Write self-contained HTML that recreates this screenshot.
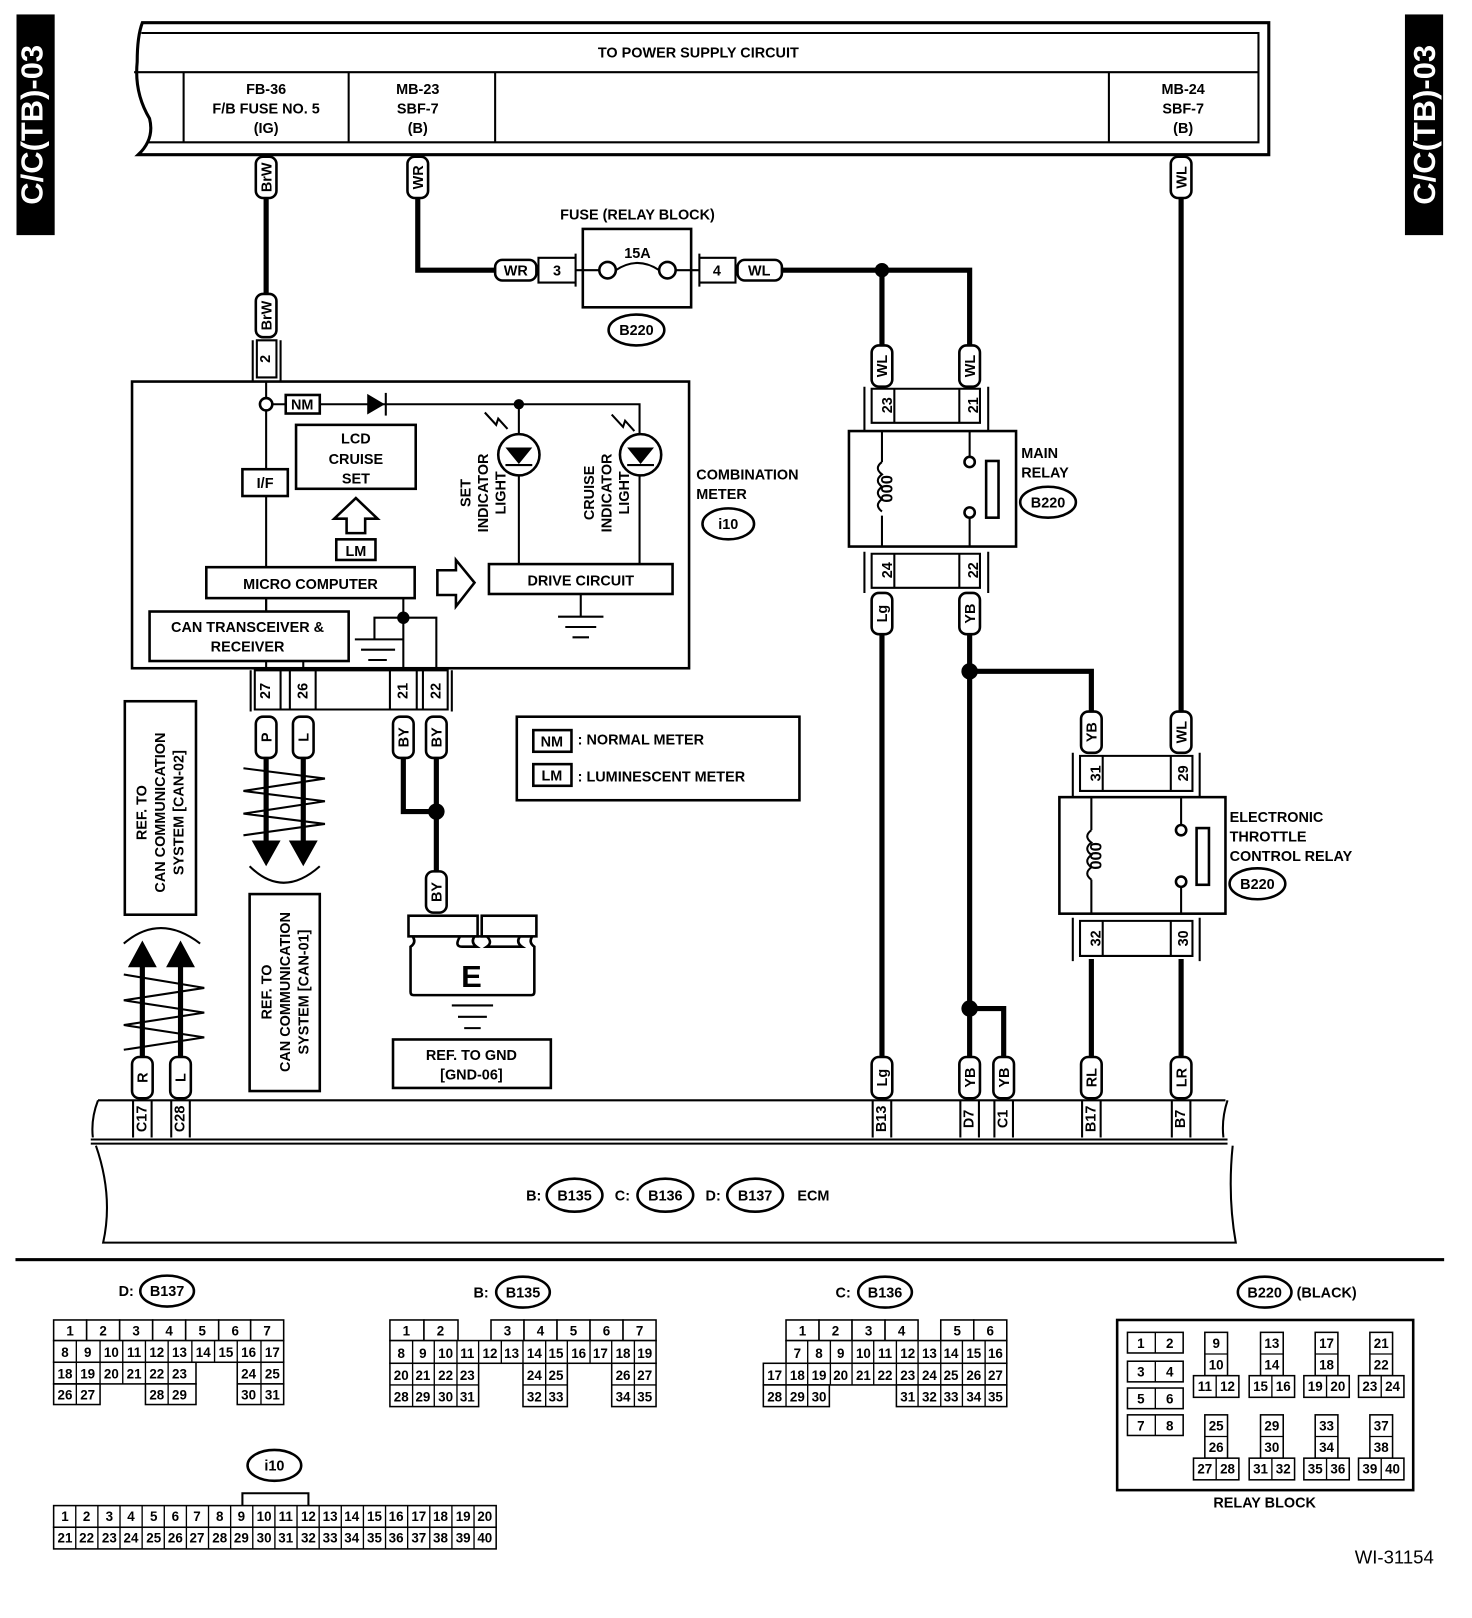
<!DOCTYPE html>
<html><head><meta charset="utf-8"><style>
html,body{margin:0;padding:0;background:#fff}
svg{display:block}
text{font-family:"Liberation Sans",sans-serif;font-weight:bold;fill:#000}
.t{font-size:14px}
.s{font-size:13px;font-weight:normal}
.w{stroke:#000;stroke-width:5;fill:none}
.n{stroke:#000;stroke-width:2;fill:none}
.b{stroke:#000;stroke-width:2.5;fill:#fff}
</style></head><body>
<svg width="1472" height="1618" viewBox="0 0 1427 1569" preserveAspectRatio="none" xmlns="http://www.w3.org/2000/svg">
<rect x="16" y="14" width="37" height="214" fill="#000"/>
<text transform="translate(41,121) rotate(-90)" text-anchor="middle" style="font-size:30px;fill:#fff">C/C(TB)-03</text>
<rect x="1362" y="14" width="37" height="214" fill="#000"/>
<text transform="translate(1391,121) rotate(-90)" text-anchor="middle" style="font-size:30px;fill:#fff">C/C(TB)-03</text>

<path d="M138,22 H1230 V150 H134 Q150,135 145,115 Q130,90 133,60 Q133,35 138,22 Z" fill="#fff" stroke="#000" stroke-width="3"/>
<path d="M137,32 H1220 V138 H142 M130,70 H1220" class="n" stroke-width="2.5"/>
<path d="M178,70 V138 M338,70 V138 M480,70 V138 M1075,70 V138" class="n" stroke-width="2.5"/>
<text x="677" y="56" text-anchor="middle" class="t">TO POWER SUPPLY CIRCUIT</text>
<text x="258" y="91" text-anchor="middle" class="t">FB-36</text>
<text x="258" y="110" text-anchor="middle" class="t">F/B FUSE NO. 5</text>
<text x="258" y="129" text-anchor="middle" class="t">(IG)</text>
<text x="405" y="91" text-anchor="middle" class="t">MB-23</text>
<text x="405" y="110" text-anchor="middle" class="t">SBF-7</text>
<text x="405" y="129" text-anchor="middle" class="t">(B)</text>
<text x="1147" y="91" text-anchor="middle" class="t">MB-24</text>
<text x="1147" y="110" text-anchor="middle" class="t">SBF-7</text>
<text x="1147" y="129" text-anchor="middle" class="t">(B)</text>

<path class="w" d="M258,192 V290"/>
<path class="w" d="M405,192 V262 H480"/>
<path class="w" d="M1145,192 V690"/>
<path class="w" d="M758,262 H940 V335"/>
<path class="w" d="M855,262 V335"/>
<circle cx="855" cy="262" r="7"/>
<path class="w" d="M855,615 V1025"/>
<path class="w" d="M940,615 V1025"/>
<path class="w" d="M940,651 H1058 V690"/>
<path class="w" d="M940,978 H973 V1025"/>
<circle cx="940" cy="651" r="8"/><circle cx="940" cy="978" r="8"/>
<path class="w" d="M1058,930 V1025 M1145,930 V1025"/>

<g fill="#fff" stroke="#000" stroke-width="2.5">
<rect x="248" y="152" width="20" height="40" rx="7"/>
<rect x="248" y="285" width="20" height="42" rx="7"/>
<rect x="395" y="152" width="20" height="40" rx="7"/>
<rect x="1135" y="152" width="20" height="40" rx="7"/>
<rect x="480" y="252" width="40" height="20" rx="7"/>
<rect x="715" y="252" width="43" height="20" rx="7"/>
<rect x="845" y="335" width="20" height="40" rx="7"/>
<rect x="930" y="335" width="20" height="40" rx="7"/>
<rect x="845" y="575" width="20" height="40" rx="7"/>
<rect x="930" y="575" width="20" height="40" rx="7"/>
<rect x="1048" y="690" width="20" height="40" rx="7"/>
<rect x="1135" y="690" width="20" height="40" rx="7"/>
<rect x="845" y="1025" width="20" height="40" rx="7"/>
<rect x="930" y="1025" width="20" height="40" rx="7"/>
<rect x="963" y="1025" width="20" height="40" rx="7"/>
<rect x="1048" y="1025" width="20" height="40" rx="7"/>
<rect x="1135" y="1025" width="20" height="40" rx="7"/>
<rect x="248" y="695" width="20" height="40" rx="7"/>
<rect x="284" y="695" width="20" height="40" rx="7"/>
<rect x="381" y="695" width="20" height="40" rx="7"/>
<rect x="413" y="695" width="20" height="40" rx="7"/>
<rect x="413" y="845" width="20" height="40" rx="7"/>
<rect x="128" y="1025" width="20" height="40" rx="7"/>
<rect x="165" y="1025" width="20" height="40" rx="7"/>
</g>
<g class="t" text-anchor="middle">
<text transform="translate(263,172) rotate(-90)">BrW</text>
<text transform="translate(263,306) rotate(-90)">BrW</text>
<text transform="translate(410,172) rotate(-90)">WR</text>
<text transform="translate(1150,172) rotate(-90)">WL</text>
<text x="500" y="267">WR</text>
<text x="736" y="267">WL</text>
<text transform="translate(860,355) rotate(-90)">WL</text>
<text transform="translate(945,355) rotate(-90)">WL</text>
<text transform="translate(860,595) rotate(-90)">Lg</text>
<text transform="translate(945,595) rotate(-90)">YB</text>
<text transform="translate(1063,710) rotate(-90)">YB</text>
<text transform="translate(1150,710) rotate(-90)">WL</text>
<text transform="translate(860,1045) rotate(-90)">Lg</text>
<text transform="translate(945,1045) rotate(-90)">YB</text>
<text transform="translate(978,1045) rotate(-90)">YB</text>
<text transform="translate(1063,1045) rotate(-90)">RL</text>
<text transform="translate(1150,1045) rotate(-90)">LR</text>
<text transform="translate(263,715) rotate(-90)">P</text>
<text transform="translate(299,715) rotate(-90)">L</text>
<text transform="translate(396,715) rotate(-90)">BY</text>
<text transform="translate(428,715) rotate(-90)">BY</text>
<text transform="translate(428,865) rotate(-90)">BY</text>
<text transform="translate(143,1045) rotate(-90)">R</text>
<text transform="translate(180,1045) rotate(-90)">L</text>
</g>

<text x="618" y="213" text-anchor="middle" class="t">FUSE (RELAY BLOCK)</text>
<rect x="565" y="222" width="105" height="76" class="b"/>
<path class="n" d="M558,246 V278 M522,250 H558 V274 H522 Z M678,246 V278 M678,250 H713 V274 H678 Z"/>
<text x="540" y="267" text-anchor="middle" class="t">3</text>
<text x="695" y="267" text-anchor="middle" class="t">4</text>
<text x="618" y="250" text-anchor="middle" class="t">15A</text>
<path class="n" d="M558,262 H581 M597,262 Q618,248 639,262 M655,262 H678"/>
<circle cx="589" cy="262" r="8" class="b" stroke-width="2"/><circle cx="647" cy="262" r="8" class="b" stroke-width="2"/>
<ellipse cx="617" cy="320" rx="27" ry="15" class="b"/>
<text x="617" y="325" text-anchor="middle" class="t">B220</text>

<path class="n" d="M838,375 V418 M958,375 V418 M845,377 H950 V410 H845 Z M867,377 V410 M930,377 V410"/>
<text transform="translate(861,393) rotate(-90)" text-anchor="middle" class="t" dominant-baseline="central">23</text>
<text transform="translate(944,393) rotate(-90)" text-anchor="middle" class="t" dominant-baseline="central">21</text>
<rect x="823" y="418" width="162" height="112" class="b"/>
<path class="n" d="M855,418 V448 M855,500 V530 M940,418 V443 M940,503 V530"/>
<path class="n" d="M855,448 q-8,6 0,12 q-8,6 0,12 q-8,6 0,12 q-8,6 0,12" stroke-width="2.5"/>
<text transform="translate(865,474) rotate(-90)" text-anchor="middle" class="t" style="font-size:16px">000</text>
<circle cx="940" cy="448" r="5" class="b" stroke-width="2"/><circle cx="940" cy="497" r="5" class="b" stroke-width="2"/>
<rect x="956" y="447" width="12" height="55" class="b" stroke-width="2"/>
<path class="n" d="M838,535 V575 M958,535 V575 M845,537 H950 V570 H845 Z M867,537 V570 M930,537 V570"/>
<text transform="translate(861,553) rotate(-90)" text-anchor="middle" class="t" dominant-baseline="central">24</text>
<text transform="translate(944,553) rotate(-90)" text-anchor="middle" class="t" dominant-baseline="central">22</text>
<text x="990" y="444" class="t">MAIN</text>
<text x="990" y="463" class="t">RELAY</text>
<ellipse cx="1016" cy="487" rx="27" ry="15" class="b"/>
<text x="1016" y="492" text-anchor="middle" class="t">B220</text>

<path class="n" d="M1040,730 V773 M1163,730 V773 M1047,733 H1156 V767 H1047 Z M1069,733 V767 M1135,733 V767"/>
<text transform="translate(1063,750) rotate(-90)" text-anchor="middle" class="t" dominant-baseline="central">31</text>
<text transform="translate(1148,750) rotate(-90)" text-anchor="middle" class="t" dominant-baseline="central">29</text>
<rect x="1027" y="773" width="161" height="113" class="b"/>
<path class="n" d="M1058,773 V805 M1058,853 V886 M1145,773 V800 M1145,860 V886"/>
<path class="n" d="M1058,805 q-8,6 0,12 q-8,6 0,12 q-8,6 0,12 q-8,6 0,12" stroke-width="2.5"/>
<text transform="translate(1068,830) rotate(-90)" text-anchor="middle" class="t" style="font-size:16px">000</text>
<circle cx="1145" cy="805" r="5" class="b" stroke-width="2"/><circle cx="1145" cy="855" r="5" class="b" stroke-width="2"/>
<rect x="1160" y="803" width="12" height="55" class="b" stroke-width="2"/>
<path class="n" d="M1040,890 V932 M1163,890 V932 M1047,893 H1156 V927 H1047 Z M1069,893 V927 M1135,893 V927"/>
<text transform="translate(1063,910) rotate(-90)" text-anchor="middle" class="t" dominant-baseline="central">32</text>
<text transform="translate(1148,910) rotate(-90)" text-anchor="middle" class="t" dominant-baseline="central">30</text>
<text x="1192" y="797" class="t">ELECTRONIC</text>
<text x="1192" y="816" class="t">THROTTLE</text>
<text x="1192" y="835" class="t">CONTROL RELAY</text>
<ellipse cx="1219" cy="857" rx="27" ry="15" class="b"/>
<text x="1219" y="862" text-anchor="middle" class="t">B220</text>

<path class="n" d="M245,330 V370 M272,330 V370 M249,330 H268 V366 H249 Z"/>
<text transform="translate(258,348) rotate(-90)" text-anchor="middle" class="t" dominant-baseline="central">2</text>
<rect x="128" y="370" width="540" height="278" class="b"/>
<path class="n" d="M258,370 V385 M258,399 V600 M265,392 H277 M310,392 H620 V548 M503,392 V548"/>
<rect x="277" y="383" width="33" height="18" class="b" stroke-width="2"/>
<text x="293" y="397" text-anchor="middle" class="t">NM</text>
<circle cx="258" cy="392" r="6" class="b" stroke-width="2"/>
<path d="M356,382 L373,392 L356,402 Z"/><path class="n" d="M374,381 V403" stroke-width="3"/>
<circle cx="503" cy="392" r="5"/>
<rect x="287" y="412" width="116" height="62" class="b"/>
<text x="345" y="430" text-anchor="middle" class="t">LCD</text>
<text x="345" y="450" text-anchor="middle" class="t">CRUISE</text>
<text x="345" y="469" text-anchor="middle" class="t">SET</text>
<rect x="235" y="455" width="44" height="26" class="b"/>
<text x="257" y="473" text-anchor="middle" class="t">I/F</text>
<path d="M345,483 L366,503 L354,503 L354,517 L336,517 L336,503 L324,503 Z" class="b"/>
<rect x="326" y="523" width="38" height="20" class="b"/>
<text x="345" y="539" text-anchor="middle" class="t">LM</text>
<rect x="200" y="550" width="202" height="30" class="b"/>
<text x="301" y="571" text-anchor="middle" class="t">MICRO COMPUTER</text>
<path d="M424,553 L442,553 L442,543 L460,565 L442,588 L442,577 L424,577 Z" class="b"/>
<rect x="474" y="547" width="178" height="29" class="b"/>
<text x="563" y="568" text-anchor="middle" class="t">DRIVE CIRCUIT</text>
<path class="n" d="M563,576 V598 M541,598 H585 M548,608 H578 M555,618 H571"/>
<circle cx="503" cy="441" r="20" class="b" stroke-width="2.5"/>
<circle cx="621" cy="441" r="20" class="b" stroke-width="2.5"/>
<path d="M490,434 H516 L503,450 Z M608,434 H634 L621,450 Z"/>
<path class="n" d="M490,451 H516 M608,451 H634"/>
<path class="n" d="M470,400 L481,412 L483,406 L492,416 M593,402 L604,414 L606,408 L615,418"/>
<text transform="translate(456,478) rotate(-90)" text-anchor="middle" class="t">SET</text>
<text transform="translate(473,478) rotate(-90)" text-anchor="middle" class="t">INDICATOR</text>
<text transform="translate(490,478) rotate(-90)" text-anchor="middle" class="t">LIGHT</text>
<text transform="translate(576,478) rotate(-90)" text-anchor="middle" class="t">CRUISE</text>
<text transform="translate(593,478) rotate(-90)" text-anchor="middle" class="t">INDICATOR</text>
<text transform="translate(610,478) rotate(-90)" text-anchor="middle" class="t">LIGHT</text>
<rect x="145" y="593" width="193" height="48" class="b"/>
<text x="240" y="613" text-anchor="middle" class="t">CAN TRANSCEIVER &amp;</text>
<text x="240" y="632" text-anchor="middle" class="t">RECEIVER</text>
<path class="n" d="M258,580 V593 M391,580 V648 M391,599 H423 V648 M391,599 H363 V620 M344,620 H390 M350,630 H383 M357,640 H375 M258,641 V650 M294,641 V650"/>
<circle cx="391" cy="599" r="6"/>
<text x="675" y="465" class="t">COMBINATION</text>
<text x="675" y="484" class="t">METER</text>
<ellipse cx="706" cy="508" rx="25" ry="15" class="b"/>
<text x="706" y="513" text-anchor="middle" class="t">i10</text>
<path class="n" d="M243,650 V690 M438,650 V690 M247,650 H434 V688 H247 Z M272,650 V688 M281,650 V688 M306,650 V688 M378,650 V688 M404,650 V688 M410,650 V688"/>
<text transform="translate(258,670) rotate(-90)" text-anchor="middle" class="t" dominant-baseline="central">27</text>
<text transform="translate(294,670) rotate(-90)" text-anchor="middle" class="t" dominant-baseline="central">26</text>
<text transform="translate(391,670) rotate(-90)" text-anchor="middle" class="t" dominant-baseline="central">21</text>
<text transform="translate(423,670) rotate(-90)" text-anchor="middle" class="t" dominant-baseline="central">22</text>

<path class="w" d="M391,735 V787 H423 M423,735 V845"/>
<circle cx="423" cy="787" r="8"/>
<path d="M400,908 Q404,914 398,918 V962 Q398,965 401,965 H515 Q518,965 518,962 V918 Q512,914 516,908 H504 Q500,914 506,918 H472 Q478,914 472,908 H460 Q456,914 462,918 H448 Q440,918 446,908 Z" class="b"/>
<rect x="396" y="888" width="67" height="20" class="b"/>
<rect x="467" y="888" width="53" height="20" class="b"/>
<text x="457" y="957" text-anchor="middle" style="font-size:30px">E</text>
<path class="n" d="M438,975 H478 M444,986 H472 M450,997 H466" stroke-width="3"/>
<rect x="381" y="1008" width="153" height="47" class="b"/>
<text x="457" y="1028" text-anchor="middle" class="t">REF. TO GND</text>
<text x="457" y="1047" text-anchor="middle" class="t">[GND-06]</text>

<rect x="501" y="695" width="274" height="81" class="b"/>
<rect x="517" y="708" width="37" height="21" class="b"/>
<text x="535" y="724" text-anchor="middle" class="t">NM</text>
<text x="560" y="722" class="t">: NORMAL METER</text>
<rect x="517" y="741" width="37" height="21" class="b"/>
<text x="535" y="757" text-anchor="middle" class="t">LM</text>
<text x="560" y="758" class="t">: LUMINESCENT METER</text>

<path class="w" d="M258,735 V818 M294,735 V818"/>
<path d="M244,815 L272,815 L258,840 Z M280,815 L308,815 L294,840 Z"/>
<path class="n" stroke-width="3" d="M236,745 L315,755 L236,767 L315,777 L236,789 L315,799 L236,810"/>
<path class="n" d="M242,840 Q274,872 310,840"/>
<rect x="242" y="867" width="68" height="191" class="b"/>
<text transform="translate(263,962) rotate(-90)" text-anchor="middle" class="t">REF. TO</text>
<text transform="translate(281,962) rotate(-90)" text-anchor="middle" class="t">CAN COMMUNICATION</text>
<text transform="translate(299,962) rotate(-90)" text-anchor="middle" class="t">SYSTEM [CAN-01]</text>
<rect x="121" y="680" width="69" height="207" class="b"/>
<text transform="translate(142,788) rotate(-90)" text-anchor="middle" class="t">REF. TO</text>
<text transform="translate(160,788) rotate(-90)" text-anchor="middle" class="t">CAN COMMUNICATION</text>
<text transform="translate(178,788) rotate(-90)" text-anchor="middle" class="t">SYSTEM [CAN-02]</text>
<path class="w" d="M138,1025 V935 M175,1025 V935"/>
<path d="M124,938 L152,938 L138,912 Z M161,938 L189,938 L175,912 Z"/>
<path class="n" stroke-width="3" d="M120,945 L198,958 L120,970 L198,982 L120,994 L198,1006 L120,1018"/>
<path class="n" d="M120,915 Q155,885 194,915"/>

<path class="n" stroke-width="3" d="M95,1067 H1188 M88,1105 H1190 M88,1109 H1190 M95,1067 Q88,1085 90,1103 M1190,1067 Q1184,1085 1186,1103 M93,1111 Q110,1160 100,1205 H1198 Q1190,1160 1195,1111"/>
<path class="n" d="M129,1067 V1103 M147,1067 V1103 M166,1067 V1103 M184,1067 V1103 M846,1067 V1103 M864,1067 V1103 M931,1067 V1103 M949,1067 V1103 M964,1067 V1103 M982,1067 V1103 M1049,1067 V1103 M1067,1067 V1103 M1136,1067 V1103 M1154,1067 V1103"/>
<g class="t" text-anchor="middle" dominant-baseline="central">
<text transform="translate(138,1085) rotate(-90)">C17</text>
<text transform="translate(175,1085) rotate(-90)">C28</text>
<text transform="translate(855,1085) rotate(-90)">B13</text>
<text transform="translate(940,1085) rotate(-90)">D7</text>
<text transform="translate(973,1085) rotate(-90)">C1</text>
<text transform="translate(1058,1085) rotate(-90)">B17</text>
<text transform="translate(1145,1085) rotate(-90)">B7</text>
</g>
<text x="510" y="1164" class="t">B:</text>
<ellipse cx="557" cy="1159" rx="27" ry="16" class="b"/><text x="557" y="1164" text-anchor="middle" class="t">B135</text>
<text x="596" y="1164" class="t">C:</text>
<ellipse cx="645" cy="1159" rx="27" ry="16" class="b"/><text x="645" y="1164" text-anchor="middle" class="t">B136</text>
<text x="684" y="1164" class="t">D:</text>
<ellipse cx="732" cy="1159" rx="27" ry="16" class="b"/><text x="732" y="1164" text-anchor="middle" class="t">B137</text>
<text x="773" y="1164" class="t">ECM</text>

<rect x="15" y="1220" width="1385" height="3"/>

<text x="115" y="1257" class="t">D:</text>
<ellipse cx="162" cy="1252" rx="26" ry="15" class="b"/><text x="162" y="1257" text-anchor="middle" class="t">B137</text>
<text x="459" y="1258" class="t">B:</text>
<ellipse cx="507" cy="1253" rx="26" ry="15" class="b"/><text x="507" y="1258" text-anchor="middle" class="t">B135</text>
<text x="810" y="1258" class="t">C:</text>
<ellipse cx="858" cy="1253" rx="26" ry="15" class="b"/><text x="858" y="1258" text-anchor="middle" class="t">B136</text>
<ellipse cx="1226" cy="1253" rx="26" ry="15" class="b"/><text x="1226" y="1258" text-anchor="middle" class="t">B220</text>
<text x="1257" y="1258" class="t">(BLACK)</text>
<ellipse cx="266" cy="1421" rx="26" ry="15" class="b"/><text x="266" y="1426" text-anchor="middle" class="t">i10</text>

<g stroke="#000" stroke-width="1.5" fill="#fff">
<rect x="52" y="1280" width="32" height="20"/><rect x="84" y="1280" width="32" height="20"/><rect x="116" y="1280" width="32" height="20"/><rect x="148" y="1280" width="32" height="20"/><rect x="180" y="1280" width="32" height="20"/><rect x="212" y="1280" width="31" height="20"/><rect x="243" y="1280" width="32" height="20"/>
<rect x="52" y="1300" width="223" height="21"/>
<rect x="52" y="1321" width="138" height="21"/><rect x="230" y="1321" width="45" height="21"/>
<rect x="52" y="1342" width="45" height="20"/><rect x="141" y="1342" width="49" height="20"/><rect x="230" y="1342" width="45" height="20"/>
<rect x="378" y="1280" width="33" height="20"/><rect x="411" y="1280" width="33" height="20"/><rect x="476" y="1280" width="32" height="20"/><rect x="508" y="1280" width="32" height="20"/><rect x="540" y="1280" width="32" height="20"/><rect x="572" y="1280" width="32" height="20"/><rect x="604" y="1280" width="32" height="20"/>
<rect x="378" y="1300" width="258" height="22"/>
<rect x="378" y="1322" width="86" height="42"/><rect x="507" y="1322" width="43" height="42"/><rect x="593" y="1322" width="43" height="42"/>
<rect x="762" y="1280" width="32" height="20"/><rect x="794" y="1280" width="32" height="20"/><rect x="826" y="1280" width="32" height="20"/><rect x="858" y="1280" width="32" height="20"/><rect x="912" y="1280" width="32" height="20"/><rect x="944" y="1280" width="32" height="20"/>
<rect x="762" y="1300" width="214" height="22"/>
<rect x="740" y="1322" width="236" height="21"/>
<rect x="740" y="1343" width="64" height="21"/><rect x="869" y="1343" width="107" height="21"/>
<rect x="52" y="1460" width="429" height="21"/><rect x="52" y="1481" width="429" height="21"/>
<rect x="1083" y="1280" width="287" height="165" stroke-width="2.5"/>
</g>
<path class="n" d="M235,1460 V1448 H299 V1460" stroke-width="1.5"/>
<g stroke="#000" stroke-width="1.3" fill="none">
<path d="M74,1300 V1362 M97,1300 V1342 M119,1300 V1342 M141,1300 V1342 M163,1300 V1342 M186,1300 V1321 M208,1300 V1321 M230,1300 V1321 M253,1300 V1362 M163,1342 V1362 M52,1321 H190 M52,1342 H97"/>
<path d="M400,1300 V1364 M421,1300 V1364 M443,1300 V1364 M464,1300 V1322 M486,1300 V1322 M507,1300 V1322 M529,1300 V1364 M550,1300 V1322 M572,1300 V1322 M593,1300 V1322 M615,1300 V1364 M378,1343 H464 M507,1343 H550 M593,1343 H636"/>
<path d="M783,1300 V1343 M805,1300 V1343 M826,1300 V1343 M847,1300 V1343 M869,1300 V1343 M890,1300 V1364 M912,1300 V1364 M933,1300 V1364 M955,1300 V1364 M762,1322 V1364 M783,1343 V1364"/>
<path d="M73.45,1460 V1502 M94.9,1460 V1502 M116.35,1460 V1502 M137.8,1460 V1502 M159.25,1460 V1502 M180.7,1460 V1502 M202.15,1460 V1502 M223.6,1460 V1502 M245.05,1460 V1502 M266.5,1460 V1502 M287.95,1460 V1502 M309.4,1460 V1502 M330.85,1460 V1502 M352.3,1460 V1502 M373.75,1460 V1502 M395.2,1460 V1502 M416.65,1460 V1502 M438.1,1460 V1502 M459.55,1460 V1502"/>
</g>
<g stroke="#000" stroke-width="1.5" fill="#fff">
<rect x="1093" y="1292" width="54" height="20"/><rect x="1093" y="1320" width="54" height="20"/><rect x="1093" y="1346" width="54" height="20"/><rect x="1093" y="1372" width="54" height="20"/>
<rect x="1168" y="1292" width="22" height="42"/><rect x="1157" y="1334" width="44" height="21"/>
<rect x="1222" y="1292" width="22" height="42"/><rect x="1211" y="1334" width="44" height="21"/>
<rect x="1275" y="1292" width="22" height="42"/><rect x="1264" y="1334" width="44" height="21"/>
<rect x="1328" y="1292" width="22" height="42"/><rect x="1317" y="1334" width="44" height="21"/>
<rect x="1168" y="1372" width="22" height="42"/><rect x="1157" y="1414" width="44" height="21"/>
<rect x="1222" y="1372" width="22" height="42"/><rect x="1211" y="1414" width="44" height="21"/>
<rect x="1275" y="1372" width="22" height="42"/><rect x="1264" y="1414" width="44" height="21"/>
<rect x="1328" y="1372" width="22" height="42"/><rect x="1317" y="1414" width="44" height="21"/>
</g>
<g stroke="#000" stroke-width="1.3" fill="none">
<path d="M1120,1292 V1312 M1120,1320 V1340 M1120,1346 V1366 M1120,1372 V1392 M1168,1313 H1190 M1222,1313 H1244 M1275,1313 H1297 M1328,1313 H1350 M1168,1393 H1190 M1222,1393 H1244 M1275,1393 H1297 M1328,1393 H1350 M1179,1334 V1355 M1233,1334 V1355 M1286,1334 V1355 M1339,1334 V1355 M1179,1414 V1435 M1233,1414 V1435 M1286,1414 V1435 M1339,1414 V1435"/>
</g>
<text x="1226" y="1462" text-anchor="middle" class="t">RELAY BLOCK</text>
<text x="1390" y="1516" text-anchor="end" style="font-size:18px;font-weight:normal">WI-31154</text>

<g class="s" text-anchor="middle">
<text x="68" y="1295">1</text><text x="100" y="1295">2</text><text x="132" y="1295">3</text><text x="164" y="1295">4</text><text x="196" y="1295">5</text><text x="228" y="1295">6</text><text x="259" y="1295">7</text>
<text x="63" y="1316">8</text><text x="85" y="1316">9</text><text x="108" y="1316">10</text><text x="130" y="1316">11</text><text x="152" y="1316">12</text><text x="174" y="1316">13</text><text x="197" y="1316">14</text><text x="219" y="1316">15</text><text x="241" y="1316">16</text><text x="264" y="1316">17</text>
<text x="63" y="1337">18</text><text x="85" y="1337">19</text><text x="108" y="1337">20</text><text x="130" y="1337">21</text><text x="152" y="1337">22</text><text x="174" y="1337">23</text><text x="241" y="1337">24</text><text x="264" y="1337">25</text>
<text x="63" y="1357">26</text><text x="85" y="1357">27</text><text x="152" y="1357">28</text><text x="174" y="1357">29</text><text x="241" y="1357">30</text><text x="264" y="1357">31</text>
<text x="394" y="1295">1</text><text x="427" y="1295">2</text><text x="492" y="1295">3</text><text x="524" y="1295">4</text><text x="556" y="1295">5</text><text x="588" y="1295">6</text><text x="620" y="1295">7</text>
<text x="389" y="1317">8</text><text x="410" y="1317">9</text><text x="432" y="1317">10</text><text x="453" y="1317">11</text><text x="475" y="1317">12</text><text x="496" y="1317">13</text><text x="518" y="1317">14</text><text x="539" y="1317">15</text><text x="561" y="1317">16</text><text x="582" y="1317">17</text><text x="604" y="1317">18</text><text x="625" y="1317">19</text>
<text x="389" y="1338">20</text><text x="410" y="1338">21</text><text x="432" y="1338">22</text><text x="453" y="1338">23</text><text x="518" y="1338">24</text><text x="539" y="1338">25</text><text x="604" y="1338">26</text><text x="625" y="1338">27</text>
<text x="389" y="1359">28</text><text x="410" y="1359">29</text><text x="432" y="1359">30</text><text x="453" y="1359">31</text><text x="518" y="1359">32</text><text x="539" y="1359">33</text><text x="604" y="1359">34</text><text x="625" y="1359">35</text>
<text x="778" y="1295">1</text><text x="810" y="1295">2</text><text x="842" y="1295">3</text><text x="874" y="1295">4</text><text x="928" y="1295">5</text><text x="960" y="1295">6</text>
<text x="773" y="1317">7</text><text x="794" y="1317">8</text><text x="815" y="1317">9</text><text x="837" y="1317">10</text><text x="858" y="1317">11</text><text x="880" y="1317">12</text><text x="901" y="1317">13</text><text x="922" y="1317">14</text><text x="944" y="1317">15</text><text x="965" y="1317">16</text>
<text x="751" y="1338">17</text><text x="773" y="1338">18</text><text x="794" y="1338">19</text><text x="815" y="1338">20</text><text x="837" y="1338">21</text><text x="858" y="1338">22</text><text x="880" y="1338">23</text><text x="901" y="1338">24</text><text x="922" y="1338">25</text><text x="944" y="1338">26</text><text x="965" y="1338">27</text>
<text x="751" y="1359">28</text><text x="773" y="1359">29</text><text x="794" y="1359">30</text><text x="880" y="1359">31</text><text x="901" y="1359">32</text><text x="922" y="1359">33</text><text x="944" y="1359">34</text><text x="965" y="1359">35</text>
<text x="63" y="1475">1</text><text x="84" y="1475">2</text><text x="106" y="1475">3</text><text x="127" y="1475">4</text><text x="149" y="1475">5</text><text x="170" y="1475">6</text><text x="191" y="1475">7</text><text x="213" y="1475">8</text><text x="234" y="1475">9</text><text x="256" y="1475">10</text><text x="277" y="1475">11</text><text x="299" y="1475">12</text><text x="320" y="1475">13</text><text x="341" y="1475">14</text><text x="363" y="1475">15</text><text x="384" y="1475">16</text><text x="406" y="1475">17</text><text x="427" y="1475">18</text><text x="449" y="1475">19</text><text x="470" y="1475">20</text>
<text x="63" y="1496">21</text><text x="84" y="1496">22</text><text x="106" y="1496">23</text><text x="127" y="1496">24</text><text x="149" y="1496">25</text><text x="170" y="1496">26</text><text x="191" y="1496">27</text><text x="213" y="1496">28</text><text x="234" y="1496">29</text><text x="256" y="1496">30</text><text x="277" y="1496">31</text><text x="299" y="1496">32</text><text x="320" y="1496">33</text><text x="341" y="1496">34</text><text x="363" y="1496">35</text><text x="384" y="1496">36</text><text x="406" y="1496">37</text><text x="427" y="1496">38</text><text x="449" y="1496">39</text><text x="470" y="1496">40</text>
<text x="1106" y="1307">1</text><text x="1134" y="1307">2</text><text x="1106" y="1335">3</text><text x="1134" y="1335">4</text><text x="1106" y="1361">5</text><text x="1134" y="1361">6</text><text x="1106" y="1387">7</text><text x="1134" y="1387">8</text>
<text x="1179" y="1307">9</text><text x="1179" y="1328">10</text><text x="1168" y="1349">11</text><text x="1190" y="1349">12</text>
<text x="1233" y="1307">13</text><text x="1233" y="1328">14</text><text x="1222" y="1349">15</text><text x="1244" y="1349">16</text>
<text x="1286" y="1307">17</text><text x="1286" y="1328">18</text><text x="1275" y="1349">19</text><text x="1297" y="1349">20</text>
<text x="1339" y="1307">21</text><text x="1339" y="1328">22</text><text x="1328" y="1349">23</text><text x="1350" y="1349">24</text>
<text x="1179" y="1387">25</text><text x="1179" y="1408">26</text><text x="1168" y="1429">27</text><text x="1190" y="1429">28</text>
<text x="1233" y="1387">29</text><text x="1233" y="1408">30</text><text x="1222" y="1429">31</text><text x="1244" y="1429">32</text>
<text x="1286" y="1387">33</text><text x="1286" y="1408">34</text><text x="1275" y="1429">35</text><text x="1297" y="1429">36</text>
<text x="1339" y="1387">37</text><text x="1339" y="1408">38</text><text x="1328" y="1429">39</text><text x="1350" y="1429">40</text>
</g>
</svg>
</body></html>
